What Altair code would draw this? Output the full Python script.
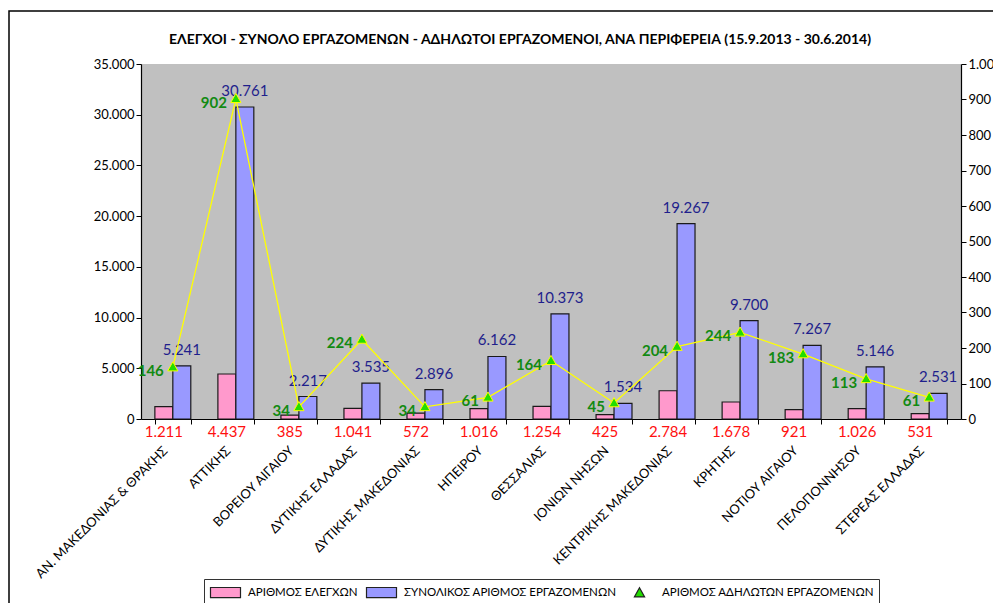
import altair as alt
import pandas as pd

categories = [
    "ΑΝ. ΜΑΚΕΔΟΝΙΑΣ & ΘΡΑΚΗΣ", "ΑΤΤΙΚΗΣ", "ΒΟΡΕΙΟΥ ΑΙΓΑΙΟΥ", "ΔΥΤΙΚΗΣ ΕΛΛΑΔΑΣ",
    "ΔΥΤΙΚΗΣ ΜΑΚΕΔΟΝΙΑΣ", "ΗΠΕΙΡΟΥ", "ΘΕΣΣΑΛΙΑΣ", "ΙΟΝΙΩΝ ΝΗΣΩΝ",
    "ΚΕΝΤΡΙΚΗΣ ΜΑΚΕΔΟΝΙΑΣ", "ΚΡΗΤΗΣ", "ΝΟΤΙΟΥ ΑΙΓΑΙΟΥ", "ΠΕΛΟΠΟΝΝΗΣΟΥ", "ΣΤΕΡΕΑΣ ΕΛΛΑΔΑΣ",
]
checks = [1211, 4437, 385, 1041, 572, 1016, 1254, 425, 2784, 1678, 921, 1026, 531]
employees = [5241, 30761, 2217, 3535, 2896, 6162, 10373, 1534, 19267, 9700, 7267, 5146, 2531]
undeclared = [146, 902, 34, 224, 34, 61, 164, 45, 204, 244, 183, 113, 61]

S_CHECK = "ΑΡΙΘΜΟΣ ΕΛΕΓΧΩΝ"
S_EMP = "ΣΥΝΟΛΙΚΟΣ ΑΡΙΘΜΟΣ ΕΡΓΑΖΟΜΕΝΩΝ"
S_UND = "ΑΡΙΘΜΟΣ ΑΔΗΛΩΤΩΝ ΕΡΓΑΖΟΜΕΝΩΝ"
series_names = [S_CHECK, S_EMP, S_UND]
left_ticks = [0, 5000, 10000, 15000, 20000, 25000, 30000, 35000]
right_ticks = [0, 100, 200, 300, 400, 500, 600, 700, 800, 900, 1000]

TITLE = "ΕΛΕΓΧΟΙ - ΣΥΝΟΛΟ ΕΡΓΑΖΟΜΕΝΩΝ - ΑΔΗΛΩΤΟΙ ΕΡΓΑΖΟΜΕΝΟΙ, ΑΝΑ ΠΕΡΙΦΕΡΕΙΑ (15.9.2013 - 30.6.2014)"

bars_df = pd.DataFrame({
    "region": categories * 2,
    "series": [S_CHECK] * len(categories) + [S_EMP] * len(categories),
    "value": checks + employees,
})
line_df = pd.DataFrame({
    "region": categories,
    "series": [S_UND] * len(categories),
    "value": undeclared,
})

FONT = "Lato"
FMT = "replace(format(datum.value, ','), ',', '.')"
RECT = "M-2,-0.67H2V0.67H-2Z"
TRI = "M0,-0.72L0.68,0.5L-0.68,0.5Z"

x_enc = alt.X(
    "region:N", sort=categories,
    scale=alt.Scale(paddingInner=0.43, paddingOuter=0.22),
    axis=alt.Axis(title=None, labelAngle=-45, labelPadding=20, labelOffset=-12, tickBand="extent",
                  labelFontSize=13, labelLimit=300, tickSize=5),
)
xoff = alt.XOffset("series:N", scale=alt.Scale(domain=[S_CHECK, S_EMP], paddingInner=0, paddingOuter=0))
color_enc = alt.Color("series:N", scale=alt.Scale(domain=series_names, range=["#FF99CC", "#9999FF", "#22DD00"]),
                      legend=alt.Legend(title=None))
shape_enc = alt.Shape("series:N", scale=alt.Scale(domain=series_names, range=[RECT, RECT, TRI]),
                      legend=alt.Legend(title=None))

y_left = alt.Y("value:Q", scale=alt.Scale(domain=[0, 35000]),
               axis=alt.Axis(title=None, values=left_ticks, labelExpr=FMT, grid=False, orient="left",
                             labelFontSize=13, tickSize=5))
y_right = alt.Y("value:Q", scale=alt.Scale(domain=[0, 1000]),
                axis=alt.Axis(title=None, values=right_ticks, labelExpr=FMT, grid=False, orient="right",
                              labelFontSize=13, tickSize=5))

base_bars = alt.Chart(bars_df).transform_calculate(label=FMT)

bars = base_bars.mark_bar(stroke="#1a1a1a", strokeWidth=1.2).encode(
    x=x_enc, xOffset=xoff, y=y_left, color=color_enc
)
blue_text = base_bars.transform_filter(alt.datum.series == S_EMP).mark_text(
    dy=-16, baseline="middle", color="#1F1F8C", fontSize=15, font=FONT
).encode(x=x_enc, xOffset=xoff, y=y_left, text="label:N")
red_text = base_bars.transform_filter(alt.datum.series == S_CHECK).mark_text(
    dy=13, baseline="middle", color="#FF1010", fontSize=15, font=FONT
).encode(x=x_enc, xOffset=xoff, y=alt.datum(0), text="label:N")

deco = alt.Chart(pd.DataFrame({"a": [0]}))
frame = deco.mark_rect(fillOpacity=0, stroke="#000", strokeWidth=1.5).encode(
    x=alt.value(-132), x2=alt.value(880), y=alt.value(-53), y2=alt.value(560)
)
top_bar = deco.mark_rect(fill="#000").encode(
    x=alt.value(369), x2=alt.value(534), y=alt.value(-64), y2=alt.value(-61)
)

left = alt.layer(frame, top_bar, bars, blue_text, red_text)

base_line = alt.Chart(line_df).transform_calculate(label=FMT)
line = base_line.mark_line(color="#FFFF00", strokeWidth=1.3).encode(x=x_enc, y=y_right)
points = base_line.mark_point(filled=True, size=225, stroke="#FFFF00", strokeWidth=1, opacity=1).encode(
    x=x_enc, y=y_right, color=color_enc, shape=shape_enc
)
green_text = base_line.mark_text(
    align="right", dx=-9, dy=4, baseline="middle", fontWeight="bold", fontSize=15,
    color="#128A12", font=FONT
).encode(x=x_enc, y=y_right, text="label:N")

right = alt.layer(line, points, green_text)

chart = alt.layer(left, right).resolve_scale(y="independent").properties(
    width=820, height=355,
    autosize=alt.AutoSizeParams(type="none"),
    padding={"left": 133, "top": 56, "right": 32, "bottom": 184},
    title=alt.TitleParams(TITLE, fontSize=14, font=FONT, fontWeight="bold", anchor="middle",
                          offset=0, dy=47, dx=-31, color="#000"),
).configure_view(fill="#C0C0C0", strokeWidth=0).configure_axis(
    labelFont=FONT, labelColor="#000", domainColor="#000", tickColor="#000", domainWidth=1.2
).configure_legend(
    orient="none", legendX=63, legendY=515, direction="horizontal", columns=3,
    strokeColor="#333", fillColor="#FFFFFF", padding=5, labelFont=FONT, labelFontSize=11.5,
    labelColor="#000", symbolSize=225, symbolStrokeColor="#222", symbolStrokeWidth=1.2,
    symbolOffset=8, columnPadding=6, labelOffset=14, labelLimit=400,
)

chart.save("out.html", embed_options={"renderer": "svg", "actions": False})
